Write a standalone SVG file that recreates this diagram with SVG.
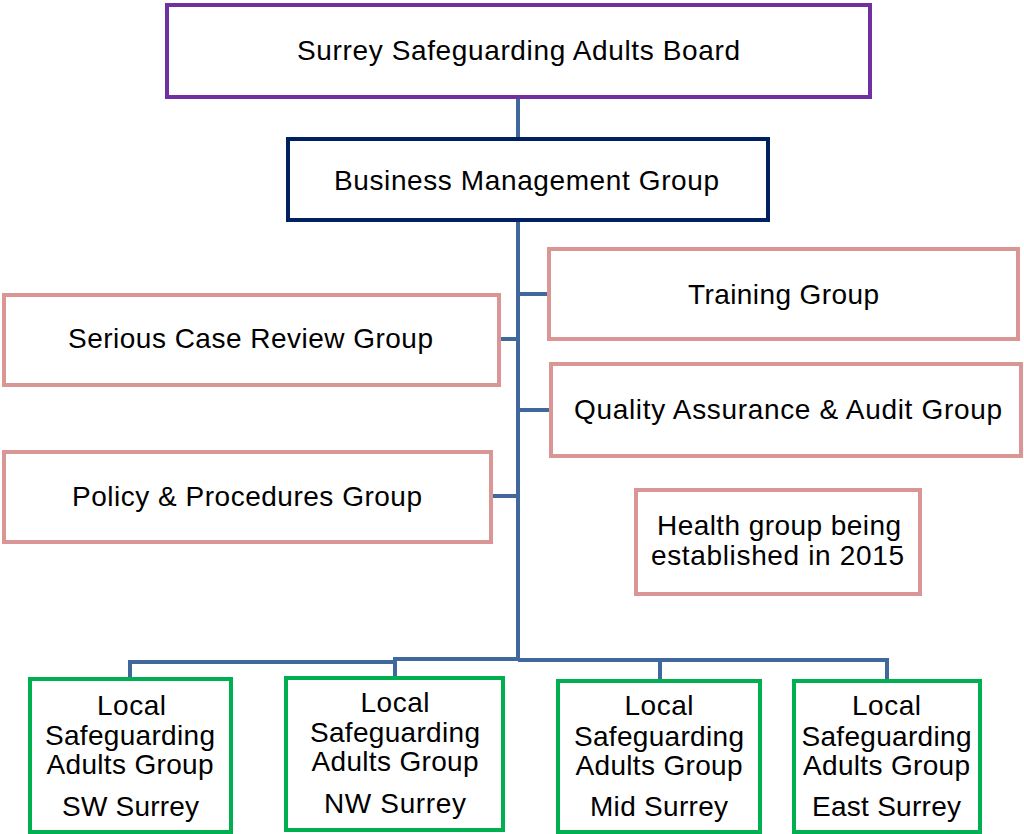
<svg xmlns="http://www.w3.org/2000/svg" width="1024" height="834" viewBox="0 0 1024 834">
<style>
text{font-family:"Liberation Sans",Arial,sans-serif;font-size:28px;fill:#000;text-anchor:middle}
.box{fill:#fff;stroke-width:4}
.purple{stroke:#7030A0}
.navy{stroke:#002060}
.pink{stroke:#D99694}
.green{stroke:#00B050}
.conn{fill:none;stroke:#41689C;stroke-width:4}
</style>
<rect width="1024" height="834" fill="#fff"/>
<g id="connectors">
<path class="conn" d="M518 97V660"/>
<path class="conn" d="M518 294H549M499 339H518M518 410H551M491 496H518"/>
<path class="conn" d="M130 678V662H395V659H518M395 659V677M518 660H887V680M660 660V680"/>
</g>
<g id="board"><rect class="box purple" x="167" y="5" width="703" height="92"/><text x="518.5" y="60" textLength="443">Surrey Safeguarding Adults Board</text></g>
<g id="bmg"><rect class="box navy" x="288" y="139" width="480" height="81"/><text x="526.5" y="190" textLength="385">Business Management Group</text></g>
<g id="training"><rect class="box pink" x="549" y="249" width="469" height="90"/><text x="783.5" y="304" textLength="191">Training Group</text></g>
<g id="scr"><rect class="box pink" x="4" y="295" width="495" height="90"/><text x="250.5" y="348" textLength="365">Serious Case Review Group</text></g>
<g id="qa"><rect class="box pink" x="551" y="364" width="470" height="92"/><text x="788" y="419" textLength="428">Quality Assurance &amp; Audit Group</text></g>
<g id="policy"><rect class="box pink" x="4" y="452" width="487" height="90"/><text x="247" y="506" textLength="350">Policy &amp; Procedures Group</text></g>
<g id="health"><rect class="box pink" x="636" y="490" width="284" height="104"/><text x="779" y="535" textLength="244">Health group being</text><text x="777.5" y="565" textLength="253">established in 2015</text></g>
<g id="sw"><rect class="box green" x="30" y="679" width="201" height="153"/><text x="131.5" y="715" textLength="69">Local</text><text x="130" y="745" textLength="170">Safeguarding</text><text x="130" y="774" textLength="167">Adults Group</text><text x="130.5" y="816" textLength="137">SW Surrey</text></g>
<g id="nw"><rect class="box green" x="286" y="678" width="217" height="152"/><text x="395" y="712" textLength="69">Local</text><text x="395" y="742" textLength="170">Safeguarding</text><text x="395" y="771" textLength="167">Adults Group</text><text x="395" y="813" textLength="142">NW Surrey</text></g>
<g id="mid"><rect class="box green" x="558" y="681" width="202" height="151"/><text x="659" y="715" textLength="69">Local</text><text x="659" y="746" textLength="170">Safeguarding</text><text x="659" y="775" textLength="167">Adults Group</text><text x="659" y="816" textLength="138">Mid Surrey</text></g>
<g id="east"><rect class="box green" x="794" y="681" width="186" height="151"/><text x="886.5" y="715" textLength="69">Local</text><text x="886.5" y="746" textLength="170">Safeguarding</text><text x="886.5" y="775" textLength="167">Adults Group</text><text x="886.5" y="816" textLength="149">East Surrey</text></g>
</svg>
